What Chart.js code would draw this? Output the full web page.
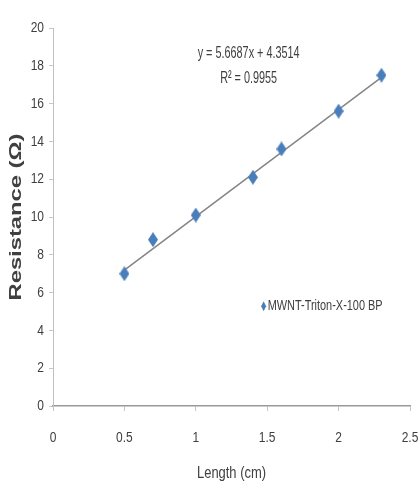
<!DOCTYPE html>
<html><head><meta charset="utf-8">
<script src="https://cdn.jsdelivr.net/npm/chart.js@4"></script>
<style>html,body{margin:0;padding:0;background:#fff}#wrap{width:420px;height:489px}</style>
</head><body><div id="wrap"><canvas id="c" width="420" height="489"></canvas></div>
<script>
const lengths = [0.5, 0.7, 1.0, 1.4, 1.6, 2.0, 2.3];
const resistance = [7.0, 8.8, 10.1, 12.1, 13.6, 15.6, 17.5];
const trendX = [0.5, 2.3];
const trendY = [7.19, 17.39];
const xTicks = [0, 0.5, 1, 1.5, 2, 2.5];
const yTicks = [0, 2, 4, 6, 8, 10, 12, 14, 16, 18, 20];
const seriesName = 'MWNT-Triton-X-100 BP';
const equationText = 'y = 5.6687x + 4.3514';
const r2Text = 'R² = 0.9955';
const xTitle = 'Length (cm)';
const yTitle = 'Resistance (Ω)';

const FONT = "'Liberation Sans', Arial, sans-serif";
const BLUE = '#4a7ebb';
const TXT = '#404040';

function diamond(w, h) {
  const c = document.createElement('canvas');
  c.width = w; c.height = h;
  const g = c.getContext('2d');
  g.fillStyle = BLUE;
  g.beginPath();
  g.moveTo(w / 2, 0); g.lineTo(w, h / 2); g.lineTo(w / 2, h); g.lineTo(0, h / 2);
  g.closePath(); g.fill();
  return c;
}
const marker = diamond(10, 15);

// draw text squeezed horizontally by sx
function sq(ctx, text, px, py, sx, font, align) {
  ctx.save();
  ctx.translate(px, py);
  ctx.scale(sx, 1);
  ctx.font = font;
  ctx.textAlign = align;
  ctx.textBaseline = 'middle';
  ctx.fillText(text, 0, 0);
  ctx.restore();
}
// draw text fitted to a target width
function fit(ctx, text, px, py, width, font, align) {
  ctx.save();
  ctx.font = font;
  const w = ctx.measureText(text).width;
  ctx.restore();
  sq(ctx, text, px, py, width / w, font, align);
}

const annot = {
  id: 'annot',
  afterDraw(chart) {
    const {ctx, scales: {x, y}, chartArea} = chart;
    ctx.save();
    ctx.fillStyle = TXT;
    // tick labels
    x.ticks.forEach(t => sq(ctx, String(t.value), x.getPixelForValue(t.value), 438, 0.8, '15px ' + FONT, 'center'));
    y.ticks.forEach(t => sq(ctx, String(t.value), 44, y.getPixelForValue(t.value), 0.8, '15px ' + FONT, 'right'));
    // trendline label
    fit(ctx, equationText, x.getPixelForValue(1.37), y.getPixelForValue(18.68), 102, '17px ' + FONT, 'center');
    fit(ctx, r2Text, x.getPixelForValue(1.37), y.getPixelForValue(17.36), 57, '17px ' + FONT, 'center');
    // legend
    const lx = x.getPixelForValue(1.475), ly = y.getPixelForValue(5.28);
    ctx.fillStyle = BLUE;
    ctx.beginPath();
    ctx.moveTo(lx, ly - 5); ctx.lineTo(lx + 2.5, ly); ctx.lineTo(lx, ly + 5); ctx.lineTo(lx - 2.5, ly);
    ctx.closePath(); ctx.fill();
    ctx.fillStyle = TXT;
    fit(ctx, seriesName, lx + 4, ly, 115, '15px ' + FONT, 'left');
    // axis titles
    fit(ctx, xTitle, (chartArea.left + chartArea.right) / 2, 474, 69, '16px ' + FONT, 'center');
    ctx.save();
    ctx.translate(16, (chartArea.top + chartArea.bottom) / 2);
    ctx.rotate(-Math.PI / 2);
    ctx.font = 'bold 17px ' + FONT;
    const w = ctx.measureText(yTitle).width;
    ctx.scale(167 / w, 1);
    ctx.textAlign = 'center';
    ctx.textBaseline = 'middle';
    ctx.fillText(yTitle, 0, 0);
    ctx.restore();
    ctx.restore();
  }
};

new Chart(document.getElementById('c'), {
  type: 'scatter',
  data: {
    datasets: [
      {
        label: 'Linear (' + seriesName + ')',
        data: trendX.map((v, i) => ({x: v, y: trendY[i]})),
        showLine: true,
        borderColor: '#858585',
        borderWidth: 1.5,
        pointRadius: 0,
        order: 2
      },
      {
        label: seriesName,
        data: lengths.map((v, i) => ({x: v, y: resistance[i]})),
        pointStyle: marker,
        pointRadius: 6,
        order: 1
      }
    ]
  },
  options: {
    responsive: false,
    animation: false,
    layout: {padding: {left: 0, right: 10, top: 28, bottom: 0}},
    plugins: {legend: {display: false}, tooltip: {enabled: false}},
    scales: {
      x: {
        type: 'linear', min: 0, max: 2.5,
        afterBuildTicks: s => { s.ticks = xTicks.map(v => ({value: v})); },
        afterFit: s => { s.height = 83; s.paddingLeft = 0; s.paddingRight = 0; },
        ticks: {display: false},
        grid: {display: true, drawOnChartArea: false, drawTicks: true, tickLength: 5, color: '#c8c8c8'},
        border: {color: '#999999', width: 1.5}
      },
      y: {
        type: 'linear', min: 0, max: 20,
        afterBuildTicks: s => { s.ticks = yTicks.map(v => ({value: v})); },
        afterFit: s => { s.width = 53; s.paddingTop = 0; s.paddingBottom = 0; },
        ticks: {display: false},
        grid: {display: true, drawOnChartArea: false, drawTicks: true, tickLength: 4, color: '#c8c8c8'},
        border: {color: '#c0c0c0', width: 1}
      }
    }
  },
  plugins: [annot]
});
</script>
</body></html>
